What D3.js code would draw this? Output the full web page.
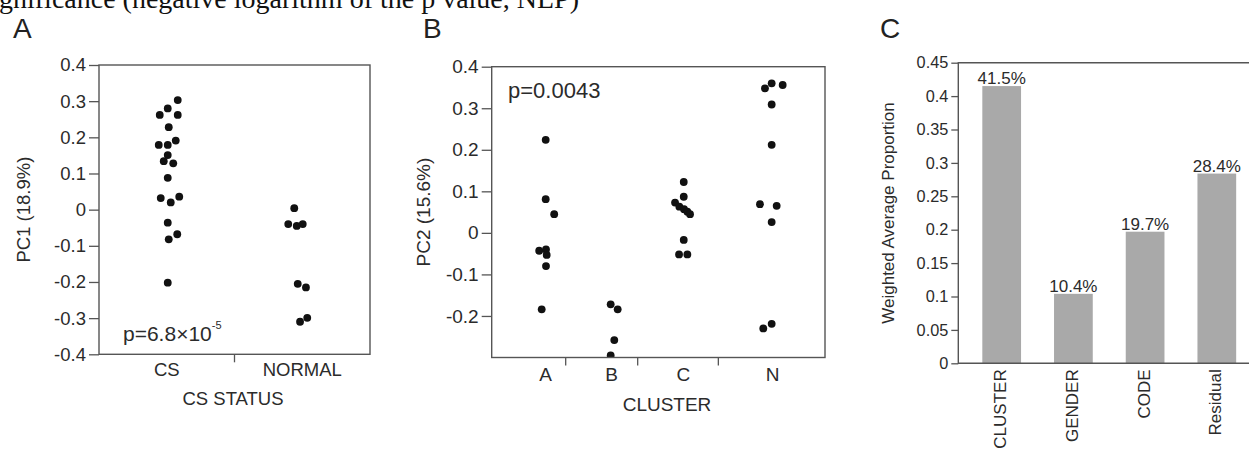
<!DOCTYPE html>
<html>
<head>
<meta charset="utf-8">
<script src="https://cdn.jsdelivr.net/npm/d3@7"></script>
<style>
body { margin: 0; background: #fff; }
svg { display: block; }
text { font-family: "Liberation Sans", Arial, sans-serif; fill: #2b2b2b; }
</style>
</head>
<body>
<svg id="fig" width="1249" height="449"></svg>
<script>
// ---- panel A : PC1 by CS status
var statusGroups = ["CS", "NORMAL"];
var pc1CS = [0.303, 0.280, 0.262, 0.262, 0.228, 0.179, 0.179, 0.191, 0.151, 0.134,
             0.128, 0.088, 0.032, 0.036, 0.020, -0.036, -0.068, -0.082, -0.202];
var pc1CSJitter = [11, 1, -7, 11, 2, -8, 1, 9, 1, -3, 6.5, 1, -6, 12.5, 4, 1, 10.5, 2, 1];
var pc1Normal = [0.004, -0.040, -0.045, -0.040, -0.205, -0.215, -0.310, -0.299];
var pc1NormalJitter = [-8, -14, -5.5, 0.5, -4.5, 3.7, -2.2, 5];
var pc1Ticks = [0.4, 0.3, 0.2, 0.1, 0, -0.1, -0.2, -0.3, -0.4];

// ---- panel B : PC2 by cluster
var clusters = ["A", "B", "C", "N"];
var pc2A = [0.224, 0.081, 0.045, -0.043, -0.040, -0.053, -0.080, -0.184];
var pc2AJitter = [0, 0, 8.5, -6.5, 0.3, 1, 0.3, -4];
var pc2B = [-0.172, -0.184, -0.258, -0.295];
var pc2BJitter = [-1, 6, 2.6, -1];
var pc2C = [0.1225, 0.087, 0.073, 0.063, 0.057, 0.051, 0.045, -0.017, -0.052, -0.052];
var pc2CJitter = [0.4, 0.4, -8.3, -4, 0.7, 4, 6.7, 0.4, -4.3, 4];
var pc2N = [0.348, 0.360, 0.356, 0.309, 0.212, 0.069, 0.065, 0.026, -0.230, -0.219];
var pc2NJitter = [-7.7, -1, 10, -1, -1, -12.7, 4, -1, -9.4, -1];
var pc2Ticks = [0.4, 0.3, 0.2, 0.1, 0, -0.1, -0.2];

// ---- panel C : variance components
var factors = ["CLUSTER", "GENDER", "CODE", "Residual"];
var proportions = [0.415, 0.104, 0.197, 0.284];
var propTicks = [0.45, 0.4, 0.35, 0.3, 0.25, 0.2, 0.15, 0.1, 0.05, 0];

var svg = d3.select("#fig");
var lineCol = "#555";
var dotCol = "#111";

function fmtTick(d) { return String(+d.toFixed(2)); }

function styleAxis(g) {
    g.select(".domain").remove();
    g.selectAll(".tick line").attr("stroke", lineCol).attr("stroke-width", 1.3);
    g.selectAll(".tick text").attr("fill", "#2b2b2b");
}

// serif caption line cut at the top of the page
svg.append("text")
    .attr("x", -1).attr("y", 8)
    .style("font-family", "'Liberation Serif', 'Times New Roman', serif")
    .style("font-size", "28px")
    .style("fill", "#111")
    .text("gnificance (negative logarithm of the p value, NLP)");

// panel letters
[["A", 13], ["B", 423], ["C", 880]].forEach(function (p) {
    svg.append("text").attr("x", p[1]).attr("y", 38)
        .style("font-size", "28px").style("fill", "#222").text(p[0]);
});

// draws a framed one-way scatter (A and B)
function drawScatter(o) {
    var g = svg.append("g");
    var clipId = "clip" + o.id;
    svg.append("clipPath").attr("id", clipId).append("rect")
        .attr("x", o.left).attr("y", o.top)
        .attr("width", o.right - o.left).attr("height", o.bottom - o.top);

    g.append("g")
        .attr("transform", "translate(" + o.left + ",0)")
        .style("font-size", o.font + "px")
        .call(d3.axisLeft(o.y).tickValues(o.ticks).tickSize(10).tickPadding(3).tickFormat(fmtTick))
        .call(styleAxis);

    // separators below the x axis
    o.seps.forEach(function (sx) {
        g.append("line").attr("x1", sx).attr("x2", sx)
            .attr("y1", o.bottom).attr("y2", o.bottom + 8)
            .attr("stroke", lineCol).attr("stroke-width", 1.3);
    });
    // category labels
    o.cats.forEach(function (c) {
        g.append("text").attr("x", o.x(c)).attr("y", o.bottom + o.labelDy)
            .attr("text-anchor", "middle").style("font-size", o.font + "px").text(c);
    });

    g.append("g").attr("clip-path", "url(#" + clipId + ")")
        .selectAll("circle").data(o.points).enter().append("circle")
        .attr("cx", function (d) { return o.x(d.g) + d.j; })
        .attr("cy", function (d) { return o.y(d.v); })
        .attr("r", 3.9)
        .attr("fill", dotCol);

    g.append("rect")
        .attr("x", o.left).attr("y", o.top)
        .attr("width", o.right - o.left).attr("height", o.bottom - o.top)
        .attr("fill", "none").attr("stroke", lineCol).attr("stroke-width", 1.4);

    g.append("text").attr("x", o.titleX).attr("y", o.bottom + o.titleDy)
        .attr("text-anchor", "middle").style("font-size", o.font + "px").text(o.xTitle);
    g.append("text")
        .attr("transform", "translate(" + o.yTitleX + "," + ((o.top + o.bottom) / 2) + ") rotate(-90)")
        .attr("text-anchor", "middle").attr("dy", "0.35em")
        .style("font-size", o.font + "px").text(o.yTitle);
    return g;
}

function toPoints(group, vals, jit) {
    return vals.map(function (v, i) { return { g: group, v: v, j: jit[i] }; });
}

// ---------- A
var aLeft = 99, aRight = 370, aTop = 65, aBottom = 354.3;
var yA = d3.scaleLinear().domain([-0.4, 0.4]).range([aBottom, aTop]);
var bandA = d3.scaleBand().domain(statusGroups).range([aLeft, aRight]);
var xA = function (c) { return bandA(c) + bandA.bandwidth() / 2; };
var gA = drawScatter({
    id: "A", left: aLeft, right: aRight, top: aTop, bottom: aBottom,
    y: yA, x: xA, ticks: pc1Ticks, cats: statusGroups, font: 18.5,
    seps: [bandA("NORMAL")], labelDy: 22, titleDy: 51, titleX: 233,
    xTitle: "CS STATUS", yTitle: "PC1 (18.9%)", yTitleX: 24,
    points: toPoints("CS", pc1CS, pc1CSJitter).concat(toPoints("NORMAL", pc1Normal, pc1NormalJitter))
});
var pA = gA.append("text").attr("x", 123).attr("y", 341).style("font-size", "21px");
pA.append("tspan").text("p=6.8\u00d710");
pA.append("tspan").attr("dy", -12).style("font-size", "11px").text("-5");

// ---------- B
var bLeft = 491.7, bRight = 825, bTop = 66.7, bBottom = 357.5;
var yB = d3.scaleLinear().domain([-0.3, 0.4]).range([bBottom, bTop]);
var posB = d3.scaleLinear().domain([0, 1]).range([bLeft, bRight]);
var xB = d3.scaleOrdinal().domain(clusters).range([0.162, 0.360, 0.575, 0.843].map(posB));
var gB = drawScatter({
    id: "B", left: bLeft, right: bRight, top: bTop, bottom: bBottom,
    y: yB, x: xB, ticks: pc2Ticks, cats: clusters, font: 19,
    seps: [0.222, 0.438, 0.680].map(posB), labelDy: 23, titleDy: 53, titleX: 667,
    xTitle: "CLUSTER", yTitle: "PC2 (15.6%)", yTitleX: 423,
    points: toPoints("A", pc2A, pc2AJitter).concat(toPoints("B", pc2B, pc2BJitter),
        toPoints("C", pc2C, pc2CJitter), toPoints("N", pc2N, pc2NJitter))
});
gB.append("text").attr("x", 508).attr("y", 98).style("font-size", "22px").text("p=0.0043");

// ---------- C
var cLeft = 958.3, cTop = 62.7, cBottom = 363.3;
var yC = d3.scaleLinear().domain([0, 0.45]).range([cBottom, cTop]);
var xC = d3.scaleBand().domain(factors).range([cLeft, 1260.2]).paddingInner(0.46).paddingOuter(0.335);
var gC = svg.append("g");

gC.selectAll("rect.bar").data(proportions).enter().append("rect")
    .attr("class", "bar")
    .attr("x", function (d, i) { return xC(factors[i]); })
    .attr("y", function (d) { return yC(d); })
    .attr("width", xC.bandwidth())
    .attr("height", function (d) { return cBottom - yC(d); })
    .attr("fill", "#a9a9a9");

gC.selectAll("text.val").data(proportions).enter().append("text")
    .attr("class", "val")
    .attr("x", function (d, i) { return xC(factors[i]) + xC.bandwidth() / 2; })
    .attr("y", function (d) { return yC(d) - 2; })
    .attr("text-anchor", "middle").style("font-size", "17px")
    .text(function (d) { return d3.format(".1%")(d); });

gC.append("g")
    .attr("transform", "translate(" + cLeft + ",0)")
    .style("font-size", "16.3px")
    .call(d3.axisLeft(yC).tickValues(propTicks).tickSize(7).tickPadding(3).tickFormat(fmtTick))
    .call(styleAxis);

gC.append("path")
    .attr("d", "M1249," + cTop + "H" + cLeft + "V" + cBottom + "H1249")
    .attr("fill", "none").attr("stroke", lineCol).attr("stroke-width", 1.4);

gC.selectAll("text.fac").data(factors).enter().append("text")
    .attr("class", "fac")
    .attr("transform", function (d) {
        return "translate(" + (xC(d) + xC.bandwidth() / 2 - 1.5) + "," + (cBottom + 6) + ") rotate(-90)";
    })
    .attr("text-anchor", "end").attr("dy", "0.35em").style("font-size", "17px")
    .text(function (d) { return d; });

gC.append("text")
    .attr("transform", "translate(888," + ((cTop + cBottom) / 2) + ") rotate(-90)")
    .attr("text-anchor", "middle").attr("dy", "0.35em").style("font-size", "17px")
    .text("Weighted Average Proportion");
</script>
</body>
</html>
